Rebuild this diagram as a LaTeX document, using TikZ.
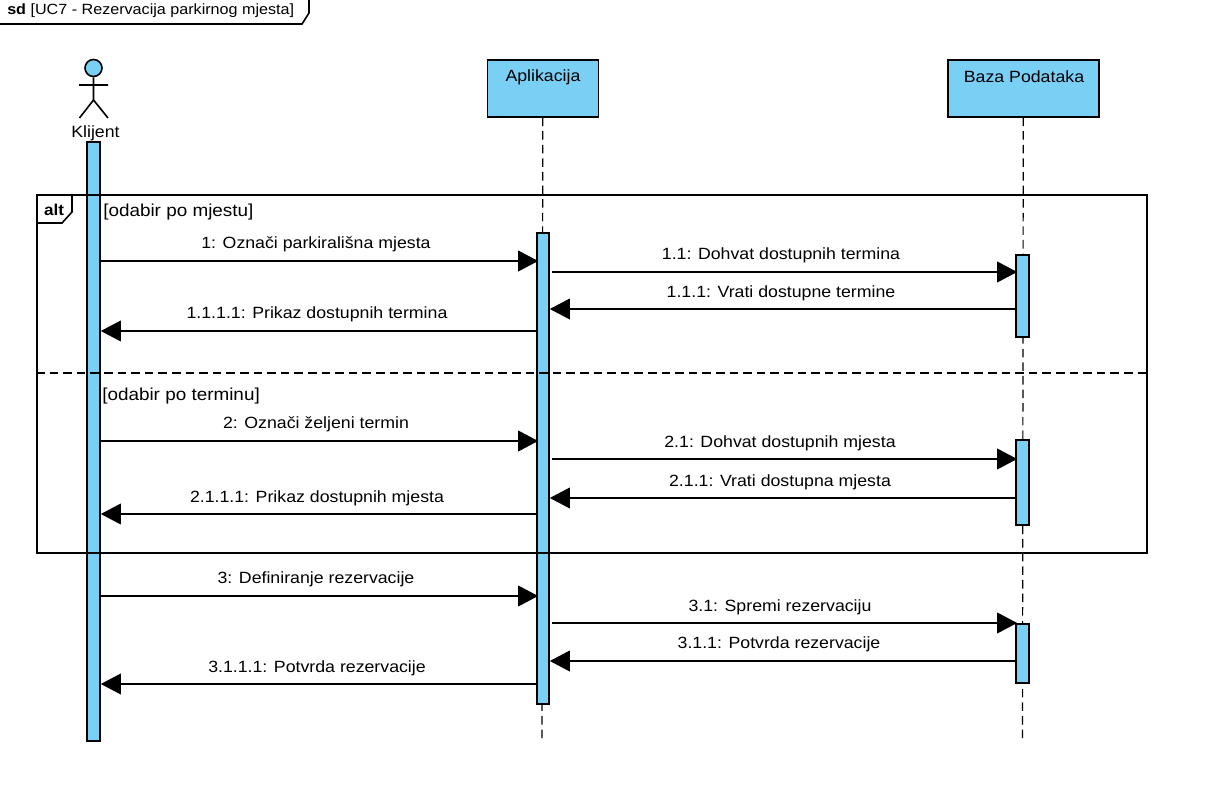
\documentclass[tikz,border=0pt]{standalone}
\usepackage{fontspec}
\setmainfont[FakeStretch=1.09]{Liberation Sans}
\usetikzlibrary{arrows.meta}
\definecolor{umlblue}{HTML}{7ACFF5}
\tikzset{
  x=0.75pt,y=-0.75pt,
  line/.style={draw=black,line width=1.2pt},
  headbox/.style={line,fill=umlblue,minimum width=#1*0.75pt,minimum height=42.75pt,inner sep=0pt,anchor=north west},
  bar/.style={line,fill=umlblue,minimum width=#1*0.75pt,inner sep=0pt,anchor=north},
  lifeline/.style={draw=black,line width=0.85pt,dash pattern=on 6.4pt off 3.8pt},
  msg/.style={draw=black,line width=1.1pt,-{Triangle[length=15pt,width=15.5pt]}},
  lbl/.style={font=\fontsize{12.2pt}{14pt}\selectfont,inner sep=0pt,text=black,yshift=-2.25pt},
}
% go right: from source bar's right side to target bar's left side (tip slightly into the bar)
\newcommand{\mR}[4][1.5pt]{\draw[msg] ([xshift=#1]#2.east |- 0,#4) -- ([xshift=1.5pt]#3.west |- 0,#4);}
\newcommand{\mL}[3]{\draw[msg] (#1.west |- 0,#3) -- (#2.east |- 0,#3);}
\begin{document}
\begin{tikzpicture}
\useasboundingbox[fill=white] (0,0) rectangle (1214,787);
% sd frame
\draw[line] (-2,24) -- (302,24) -- (309,13) -- (309,-2);
\node[lbl,font=\fontsize{11.1pt}{13pt}\selectfont,anchor=west,yshift=1.5pt] (sdt) at (7,10) {\textbf{sd} [UC7 - Rezervacija parkirnog mjesta]};
% headers
\node[headbox=111] (A) at (486.5,59) {};
\node[lbl] (At) at (543,74) {Aplikacija};
\node[headbox=151] (B) at (947,59) {};
\node[lbl] (Bt) at (1024,74) {Baza Podataka};
% lifelines
\coordinate (Aend) at (542,743);
\coordinate (Bend) at (1022.5,743);
\draw[lifeline] (A.south) -- (Aend);
\draw[lifeline] (B.south) -- (Bend);
% actor
\node[line,circle,fill=umlblue,minimum size=12.75pt,inner sep=0pt] (head) at (93.5,68) {};
\coordinate (hip) at (93.5,100);
\coordinate (armL) at (79,85);
\coordinate (armR) at (108,85);
\coordinate (legL) at (79.5,118);
\coordinate (legR) at (108,118);
\draw[line] (head.south) -- (hip) -- (legL) (hip) -- (legR) (armL) -- (armR);
\node[lbl] (K) at (95.5,130) {Klijent};
% activations
\node[bar=13,minimum height=449.25pt] (Kb) at (93.5,141) {};
\node[bar=12,minimum height=353.25pt] (Ab) at (543,232) {};
\node[bar=13,minimum height=61.5pt]  (B1) at (1022.5,254) {};
\node[bar=13,minimum height=63.75pt]  (B2) at (1022.5,439) {};
\node[bar=13,minimum height=44.25pt]  (B3) at (1022.5,623) {};
% alt frame
\node[line,minimum width=832.5pt,minimum height=268.5pt,inner sep=0pt,anchor=north west] (alt) at (36,194) {};
\draw[line] (36,223) -- (62,223) -- (72,212) -- (72,194);
\coordinate (divL) at (36,373);
\coordinate (divR) at (1146,373);
\draw[lifeline] (divL) -- (divR);
\node[lbl,font=\fontsize{11.75pt}{13pt}\selectfont\bfseries,anchor=center,yshift=1pt] (altt) at (54,208) {alt};
\node[lbl,font=\fontsize{13pt}{14pt}\selectfont,anchor=west] (g1) at (103,209) {[odabir po mjestu]};
\node[lbl,font=\fontsize{13pt}{14pt}\selectfont,anchor=west] (g2) at (102,393) {[odabir po terminu]};
% messages
\mR[0pt]{Kb}{Ab}{261} \mR{Ab}{B1}{272}
\mL{B1}{Ab}{309} \mL{Ab}{Kb}{331}
\mR[0pt]{Kb}{Ab}{441} \mR{Ab}{B2}{459}
\mL{B2}{Ab}{498} \mL{Ab}{Kb}{514}
\mR[0pt]{Kb}{Ab}{596} \mR{Ab}{B3}{623}
\mL{B3}{Ab}{661} \mL{Ab}{Kb}{684}
\node[lbl] (m1) at (316,241) {1: Označi parkirališna mjesta};
\node[lbl] (m2) at (781,252) {1.1: Dohvat dostupnih termina};
\node[lbl] (m3) at (781,290) {1.1.1: Vrati dostupne termine};
\node[lbl] (m4) at (317,311) {1.1.1.1: Prikaz dostupnih termina};
\node[lbl] (m5) at (316,421) {2: Označi željeni termin};
\node[lbl] (m6) at (780,440) {2.1: Dohvat dostupnih mjesta};
\node[lbl] (m7) at (780,479) {2.1.1: Vrati dostupna mjesta};
\node[lbl] (m8) at (317,495) {2.1.1.1: Prikaz dostupnih mjesta};
\node[lbl] (m9) at (316,576) {3: Definiranje rezervacije};
\node[lbl] (m10) at (780,604) {3.1: Spremi rezervaciju};
\node[lbl] (m11) at (779,641) {3.1.1: Potvrda rezervacije};
\node[lbl] (m12) at (317,665) {3.1.1.1: Potvrda rezervacije};
\end{tikzpicture}
\end{document}
